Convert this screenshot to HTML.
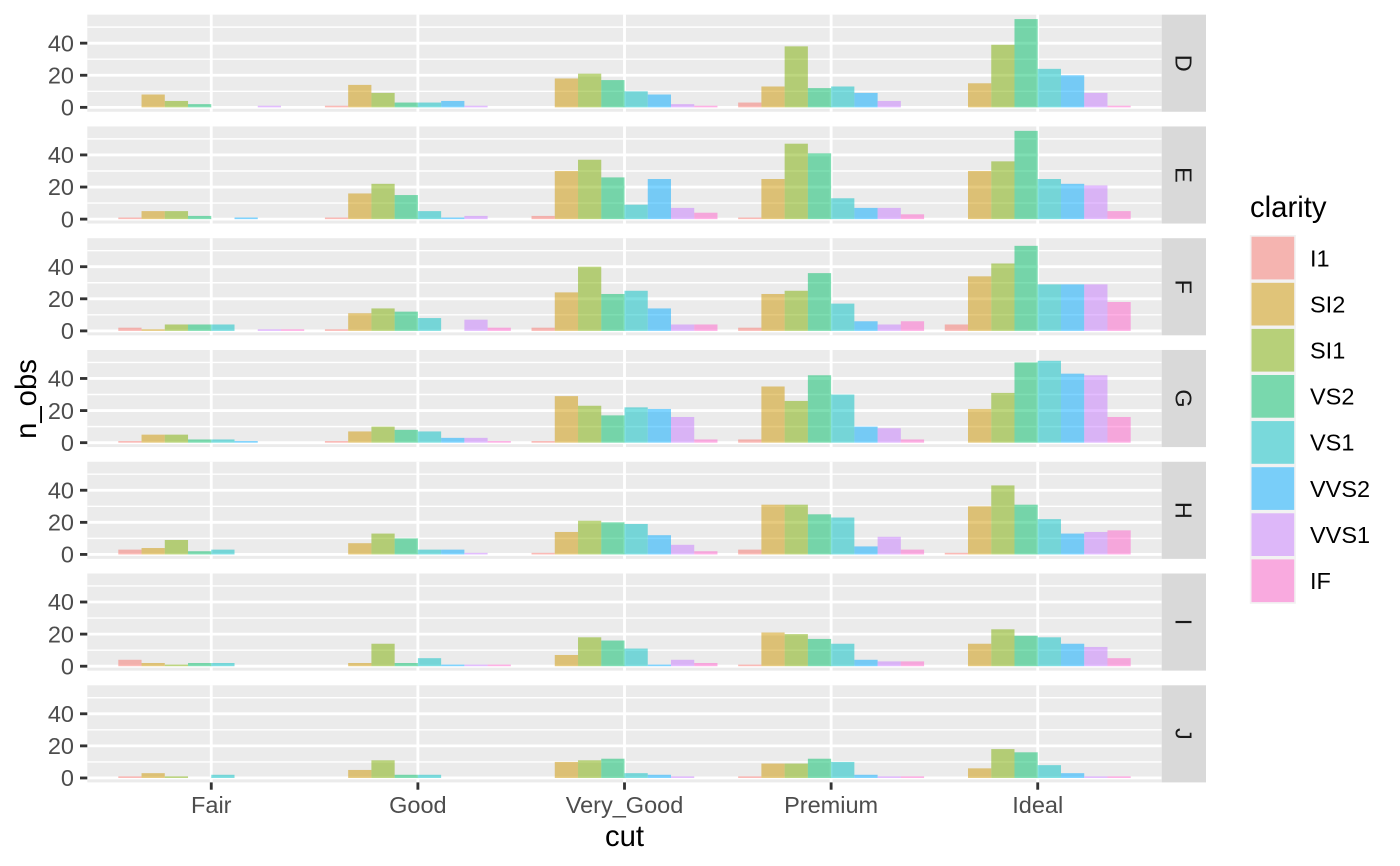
<!DOCTYPE html>
<html>
<head>
<meta charset="utf-8">
<style>
html,body{margin:0;padding:0;background:#fff;}
svg{display:block;font-family:"Liberation Sans",Arial,sans-serif;}
.bars rect{fill-opacity:0.5;}
.a{fill:#F8766D}.b{fill:#CD9600}.c{fill:#7CAE00}.d{fill:#00BE67}
.e{fill:#00BFC4}.f{fill:#00A9FF}.g{fill:#C77CFF}.h{fill:#FF61CC}
.tl{font-size:23.5px;fill:#4D4D4D;}
.st{font-size:23.5px;fill:#1A1A1A;}
.lg{font-size:23.5px;fill:#000;}
.ti{font-size:29.3px;fill:#000;}
</style>
</head>
<body>
<svg width="1400" height="866" viewBox="0 0 1400 866" xmlns="http://www.w3.org/2000/svg">
<rect width="1400" height="866" fill="#fff"/>
<defs>
<g id="pn">
<rect x="87.3" y="0" width="1074.4" height="97.1" fill="#EBEBEB"/>
<g stroke="#fff" stroke-width="1.42">
<line x1="87.3" x2="1161.7" y1="76.64" y2="76.64"/>
<line x1="87.3" x2="1161.7" y1="44.54" y2="44.54"/>
<line x1="87.3" x2="1161.7" y1="12.44" y2="12.44"/>
</g>
<g stroke="#fff" stroke-width="2.84">
<line x1="87.3" x2="1161.7" y1="92.69" y2="92.69"/>
<line x1="87.3" x2="1161.7" y1="60.59" y2="60.59"/>
<line x1="87.3" x2="1161.7" y1="28.49" y2="28.49"/>
<line x1="211.27" x2="211.27" y1="0" y2="97.1"/>
<line x1="417.89" x2="417.89" y1="0" y2="97.1"/>
<line x1="624.50" x2="624.50" y1="0" y2="97.1"/>
<line x1="831.12" x2="831.12" y1="0" y2="97.1"/>
<line x1="1037.73" x2="1037.73" y1="0" y2="97.1"/>
</g>
<rect x="1161.7" y="0" width="44.3" height="97.1" fill="#D9D9D9"/>
<g stroke="#333" stroke-width="2.84">
<line x1="80" x2="87.3" y1="92.69" y2="92.69"/>
<line x1="80" x2="87.3" y1="60.59" y2="60.59"/>
<line x1="80" x2="87.3" y1="28.49" y2="28.49"/>
</g>
</g>
</defs>
<use href="#pn" transform="translate(0,14.67)"/>
<use href="#pn" transform="translate(0,126.44)"/>
<use href="#pn" transform="translate(0,238.21)"/>
<use href="#pn" transform="translate(0,349.98)"/>
<use href="#pn" transform="translate(0,461.75)"/>
<use href="#pn" transform="translate(0,573.52)"/>
<use href="#pn" transform="translate(0,685.29)"/>

<g class="bars">
<!-- D -->
<g transform="translate(118.30,107.36) scale(1,-1.605)"><rect x="23.24" width="23.24" height="8" class="b"/><rect x="46.49" width="23.24" height="4" class="c"/><rect x="69.73" width="23.24" height="2" class="d"/><rect x="139.46" width="23.24" height="1" class="g"/></g>
<g transform="translate(324.92,107.36) scale(1,-1.605)"><rect x="0" width="23.24" height="1" class="a"/><rect x="23.24" width="23.24" height="14" class="b"/><rect x="46.49" width="23.24" height="9" class="c"/><rect x="69.73" width="23.24" height="3" class="d"/><rect x="92.97" width="23.24" height="3" class="e"/><rect x="116.22" width="23.24" height="4" class="f"/><rect x="139.46" width="23.24" height="1" class="g"/></g>
<g transform="translate(531.53,107.36) scale(1,-1.605)"><rect x="23.24" width="23.24" height="18" class="b"/><rect x="46.49" width="23.24" height="21" class="c"/><rect x="69.73" width="23.24" height="17" class="d"/><rect x="92.97" width="23.24" height="10" class="e"/><rect x="116.22" width="23.24" height="8" class="f"/><rect x="139.46" width="23.24" height="2" class="g"/><rect x="162.70" width="23.24" height="1" class="h"/></g>
<g transform="translate(738.15,107.36) scale(1,-1.605)"><rect x="0" width="23.24" height="3" class="a"/><rect x="23.24" width="23.24" height="13" class="b"/><rect x="46.49" width="23.24" height="38" class="c"/><rect x="69.73" width="23.24" height="12" class="d"/><rect x="92.97" width="23.24" height="13" class="e"/><rect x="116.22" width="23.24" height="9" class="f"/><rect x="139.46" width="23.24" height="4" class="g"/></g>
<g transform="translate(944.76,107.36) scale(1,-1.605)"><rect x="23.24" width="23.24" height="15" class="b"/><rect x="46.49" width="23.24" height="39" class="c"/><rect x="69.73" width="23.24" height="55" class="d"/><rect x="92.97" width="23.24" height="24" class="e"/><rect x="116.22" width="23.24" height="20" class="f"/><rect x="139.46" width="23.24" height="9" class="g"/><rect x="162.70" width="23.24" height="1" class="h"/></g>
<!-- E -->
<g transform="translate(118.30,219.13) scale(1,-1.605)"><rect x="0" width="23.24" height="1" class="a"/><rect x="23.24" width="23.24" height="5" class="b"/><rect x="46.49" width="23.24" height="5" class="c"/><rect x="69.73" width="23.24" height="2" class="d"/><rect x="116.22" width="23.24" height="1" class="f"/></g>
<g transform="translate(324.92,219.13) scale(1,-1.605)"><rect x="0" width="23.24" height="1" class="a"/><rect x="23.24" width="23.24" height="16" class="b"/><rect x="46.49" width="23.24" height="22" class="c"/><rect x="69.73" width="23.24" height="15" class="d"/><rect x="92.97" width="23.24" height="5" class="e"/><rect x="116.22" width="23.24" height="1" class="f"/><rect x="139.46" width="23.24" height="2" class="g"/></g>
<g transform="translate(531.53,219.13) scale(1,-1.605)"><rect x="0" width="23.24" height="2" class="a"/><rect x="23.24" width="23.24" height="30" class="b"/><rect x="46.49" width="23.24" height="37" class="c"/><rect x="69.73" width="23.24" height="26" class="d"/><rect x="92.97" width="23.24" height="9" class="e"/><rect x="116.22" width="23.24" height="25" class="f"/><rect x="139.46" width="23.24" height="7" class="g"/><rect x="162.70" width="23.24" height="4" class="h"/></g>
<g transform="translate(738.15,219.13) scale(1,-1.605)"><rect x="0" width="23.24" height="1" class="a"/><rect x="23.24" width="23.24" height="25" class="b"/><rect x="46.49" width="23.24" height="47" class="c"/><rect x="69.73" width="23.24" height="41" class="d"/><rect x="92.97" width="23.24" height="13" class="e"/><rect x="116.22" width="23.24" height="7" class="f"/><rect x="139.46" width="23.24" height="7" class="g"/><rect x="162.70" width="23.24" height="3" class="h"/></g>
<g transform="translate(944.76,219.13) scale(1,-1.605)"><rect x="23.24" width="23.24" height="30" class="b"/><rect x="46.49" width="23.24" height="36" class="c"/><rect x="69.73" width="23.24" height="55" class="d"/><rect x="92.97" width="23.24" height="25" class="e"/><rect x="116.22" width="23.24" height="22" class="f"/><rect x="139.46" width="23.24" height="21" class="g"/><rect x="162.70" width="23.24" height="5" class="h"/></g>
<!-- F -->
<g transform="translate(118.30,330.90) scale(1,-1.605)"><rect x="0" width="23.24" height="2" class="a"/><rect x="23.24" width="23.24" height="1" class="b"/><rect x="46.49" width="23.24" height="4" class="c"/><rect x="69.73" width="23.24" height="4" class="d"/><rect x="92.97" width="23.24" height="4" class="e"/><rect x="139.46" width="23.24" height="1" class="g"/><rect x="162.70" width="23.24" height="1" class="h"/></g>
<g transform="translate(324.92,330.90) scale(1,-1.605)"><rect x="0" width="23.24" height="1" class="a"/><rect x="23.24" width="23.24" height="11" class="b"/><rect x="46.49" width="23.24" height="14" class="c"/><rect x="69.73" width="23.24" height="12" class="d"/><rect x="92.97" width="23.24" height="8" class="e"/><rect x="139.46" width="23.24" height="7" class="g"/><rect x="162.70" width="23.24" height="2" class="h"/></g>
<g transform="translate(531.53,330.90) scale(1,-1.605)"><rect x="0" width="23.24" height="2" class="a"/><rect x="23.24" width="23.24" height="24" class="b"/><rect x="46.49" width="23.24" height="40" class="c"/><rect x="69.73" width="23.24" height="23" class="d"/><rect x="92.97" width="23.24" height="25" class="e"/><rect x="116.22" width="23.24" height="14" class="f"/><rect x="139.46" width="23.24" height="4" class="g"/><rect x="162.70" width="23.24" height="4" class="h"/></g>
<g transform="translate(738.15,330.90) scale(1,-1.605)"><rect x="0" width="23.24" height="2" class="a"/><rect x="23.24" width="23.24" height="23" class="b"/><rect x="46.49" width="23.24" height="25" class="c"/><rect x="69.73" width="23.24" height="36" class="d"/><rect x="92.97" width="23.24" height="17" class="e"/><rect x="116.22" width="23.24" height="6" class="f"/><rect x="139.46" width="23.24" height="4" class="g"/><rect x="162.70" width="23.24" height="6" class="h"/></g>
<g transform="translate(944.76,330.90) scale(1,-1.605)"><rect x="0" width="23.24" height="4" class="a"/><rect x="23.24" width="23.24" height="34" class="b"/><rect x="46.49" width="23.24" height="42" class="c"/><rect x="69.73" width="23.24" height="53" class="d"/><rect x="92.97" width="23.24" height="29" class="e"/><rect x="116.22" width="23.24" height="29" class="f"/><rect x="139.46" width="23.24" height="29" class="g"/><rect x="162.70" width="23.24" height="18" class="h"/></g>
<!-- G -->
<g transform="translate(118.30,442.67) scale(1,-1.605)"><rect x="0" width="23.24" height="1" class="a"/><rect x="23.24" width="23.24" height="5" class="b"/><rect x="46.49" width="23.24" height="5" class="c"/><rect x="69.73" width="23.24" height="2" class="d"/><rect x="92.97" width="23.24" height="2" class="e"/><rect x="116.22" width="23.24" height="1" class="f"/></g>
<g transform="translate(324.92,442.67) scale(1,-1.605)"><rect x="0" width="23.24" height="1" class="a"/><rect x="23.24" width="23.24" height="7" class="b"/><rect x="46.49" width="23.24" height="10" class="c"/><rect x="69.73" width="23.24" height="8" class="d"/><rect x="92.97" width="23.24" height="7" class="e"/><rect x="116.22" width="23.24" height="3" class="f"/><rect x="139.46" width="23.24" height="3" class="g"/><rect x="162.70" width="23.24" height="1" class="h"/></g>
<g transform="translate(531.53,442.67) scale(1,-1.605)"><rect x="0" width="23.24" height="1" class="a"/><rect x="23.24" width="23.24" height="29" class="b"/><rect x="46.49" width="23.24" height="23" class="c"/><rect x="69.73" width="23.24" height="17" class="d"/><rect x="92.97" width="23.24" height="22" class="e"/><rect x="116.22" width="23.24" height="21" class="f"/><rect x="139.46" width="23.24" height="16" class="g"/><rect x="162.70" width="23.24" height="2" class="h"/></g>
<g transform="translate(738.15,442.67) scale(1,-1.605)"><rect x="0" width="23.24" height="2" class="a"/><rect x="23.24" width="23.24" height="35" class="b"/><rect x="46.49" width="23.24" height="26" class="c"/><rect x="69.73" width="23.24" height="42" class="d"/><rect x="92.97" width="23.24" height="30" class="e"/><rect x="116.22" width="23.24" height="10" class="f"/><rect x="139.46" width="23.24" height="9" class="g"/><rect x="162.70" width="23.24" height="2" class="h"/></g>
<g transform="translate(944.76,442.67) scale(1,-1.605)"><rect x="23.24" width="23.24" height="21" class="b"/><rect x="46.49" width="23.24" height="31" class="c"/><rect x="69.73" width="23.24" height="50" class="d"/><rect x="92.97" width="23.24" height="51" class="e"/><rect x="116.22" width="23.24" height="43" class="f"/><rect x="139.46" width="23.24" height="42" class="g"/><rect x="162.70" width="23.24" height="16" class="h"/></g>
<!-- H -->
<g transform="translate(118.30,554.44) scale(1,-1.605)"><rect x="0" width="23.24" height="3" class="a"/><rect x="23.24" width="23.24" height="4" class="b"/><rect x="46.49" width="23.24" height="9" class="c"/><rect x="69.73" width="23.24" height="2" class="d"/><rect x="92.97" width="23.24" height="3" class="e"/></g>
<g transform="translate(324.92,554.44) scale(1,-1.605)"><rect x="23.24" width="23.24" height="7" class="b"/><rect x="46.49" width="23.24" height="13" class="c"/><rect x="69.73" width="23.24" height="10" class="d"/><rect x="92.97" width="23.24" height="3" class="e"/><rect x="116.22" width="23.24" height="3" class="f"/><rect x="139.46" width="23.24" height="1" class="g"/></g>
<g transform="translate(531.53,554.44) scale(1,-1.605)"><rect x="0" width="23.24" height="1" class="a"/><rect x="23.24" width="23.24" height="14" class="b"/><rect x="46.49" width="23.24" height="21" class="c"/><rect x="69.73" width="23.24" height="20" class="d"/><rect x="92.97" width="23.24" height="19" class="e"/><rect x="116.22" width="23.24" height="12" class="f"/><rect x="139.46" width="23.24" height="6" class="g"/><rect x="162.70" width="23.24" height="2" class="h"/></g>
<g transform="translate(738.15,554.44) scale(1,-1.605)"><rect x="0" width="23.24" height="3" class="a"/><rect x="23.24" width="23.24" height="31" class="b"/><rect x="46.49" width="23.24" height="31" class="c"/><rect x="69.73" width="23.24" height="25" class="d"/><rect x="92.97" width="23.24" height="23" class="e"/><rect x="116.22" width="23.24" height="5" class="f"/><rect x="139.46" width="23.24" height="11" class="g"/><rect x="162.70" width="23.24" height="3" class="h"/></g>
<g transform="translate(944.76,554.44) scale(1,-1.605)"><rect x="0" width="23.24" height="1" class="a"/><rect x="23.24" width="23.24" height="30" class="b"/><rect x="46.49" width="23.24" height="43" class="c"/><rect x="69.73" width="23.24" height="31" class="d"/><rect x="92.97" width="23.24" height="22" class="e"/><rect x="116.22" width="23.24" height="13" class="f"/><rect x="139.46" width="23.24" height="14" class="g"/><rect x="162.70" width="23.24" height="15" class="h"/></g>
<!-- I -->
<g transform="translate(118.30,666.21) scale(1,-1.605)"><rect x="0" width="23.24" height="4" class="a"/><rect x="23.24" width="23.24" height="2" class="b"/><rect x="46.49" width="23.24" height="1" class="c"/><rect x="69.73" width="23.24" height="2" class="d"/><rect x="92.97" width="23.24" height="2" class="e"/></g>
<g transform="translate(324.92,666.21) scale(1,-1.605)"><rect x="23.24" width="23.24" height="2" class="b"/><rect x="46.49" width="23.24" height="14" class="c"/><rect x="69.73" width="23.24" height="2" class="d"/><rect x="92.97" width="23.24" height="5" class="e"/><rect x="116.22" width="23.24" height="1" class="f"/><rect x="139.46" width="23.24" height="1" class="g"/><rect x="162.70" width="23.24" height="1" class="h"/></g>
<g transform="translate(531.53,666.21) scale(1,-1.605)"><rect x="23.24" width="23.24" height="7" class="b"/><rect x="46.49" width="23.24" height="18" class="c"/><rect x="69.73" width="23.24" height="16" class="d"/><rect x="92.97" width="23.24" height="11" class="e"/><rect x="116.22" width="23.24" height="1" class="f"/><rect x="139.46" width="23.24" height="4" class="g"/><rect x="162.70" width="23.24" height="2" class="h"/></g>
<g transform="translate(738.15,666.21) scale(1,-1.605)"><rect x="0" width="23.24" height="1" class="a"/><rect x="23.24" width="23.24" height="21" class="b"/><rect x="46.49" width="23.24" height="20" class="c"/><rect x="69.73" width="23.24" height="17" class="d"/><rect x="92.97" width="23.24" height="14" class="e"/><rect x="116.22" width="23.24" height="4" class="f"/><rect x="139.46" width="23.24" height="3" class="g"/><rect x="162.70" width="23.24" height="3" class="h"/></g>
<g transform="translate(944.76,666.21) scale(1,-1.605)"><rect x="23.24" width="23.24" height="14" class="b"/><rect x="46.49" width="23.24" height="23" class="c"/><rect x="69.73" width="23.24" height="19" class="d"/><rect x="92.97" width="23.24" height="18" class="e"/><rect x="116.22" width="23.24" height="14" class="f"/><rect x="139.46" width="23.24" height="12" class="g"/><rect x="162.70" width="23.24" height="5" class="h"/></g>
<!-- J -->
<g transform="translate(118.30,777.98) scale(1,-1.605)"><rect x="0" width="23.24" height="1" class="a"/><rect x="23.24" width="23.24" height="3" class="b"/><rect x="46.49" width="23.24" height="1" class="c"/><rect x="92.97" width="23.24" height="2" class="e"/></g>
<g transform="translate(324.92,777.98) scale(1,-1.605)"><rect x="23.24" width="23.24" height="5" class="b"/><rect x="46.49" width="23.24" height="11" class="c"/><rect x="69.73" width="23.24" height="2" class="d"/><rect x="92.97" width="23.24" height="2" class="e"/></g>
<g transform="translate(531.53,777.98) scale(1,-1.605)"><rect x="23.24" width="23.24" height="10" class="b"/><rect x="46.49" width="23.24" height="11" class="c"/><rect x="69.73" width="23.24" height="12" class="d"/><rect x="92.97" width="23.24" height="3" class="e"/><rect x="116.22" width="23.24" height="2" class="f"/><rect x="139.46" width="23.24" height="1" class="g"/></g>
<g transform="translate(738.15,777.98) scale(1,-1.605)"><rect x="0" width="23.24" height="1" class="a"/><rect x="23.24" width="23.24" height="9" class="b"/><rect x="46.49" width="23.24" height="9" class="c"/><rect x="69.73" width="23.24" height="12" class="d"/><rect x="92.97" width="23.24" height="10" class="e"/><rect x="116.22" width="23.24" height="2" class="f"/><rect x="139.46" width="23.24" height="1" class="g"/><rect x="162.70" width="23.24" height="1" class="h"/></g>
<g transform="translate(944.76,777.98) scale(1,-1.605)"><rect x="23.24" width="23.24" height="6" class="b"/><rect x="46.49" width="23.24" height="18" class="c"/><rect x="69.73" width="23.24" height="16" class="d"/><rect x="92.97" width="23.24" height="8" class="e"/><rect x="116.22" width="23.24" height="3" class="f"/><rect x="139.46" width="23.24" height="1" class="g"/><rect x="162.70" width="23.24" height="1" class="h"/></g>
</g>

<!-- y tick labels -->
<g class="tl" text-anchor="end">
<text x="74" y="115.56">0</text><text x="74" y="83.46">20</text><text x="74" y="51.36">40</text>
<text x="74" y="227.33">0</text><text x="74" y="195.23">20</text><text x="74" y="163.13">40</text>
<text x="74" y="339.10">0</text><text x="74" y="307.00">20</text><text x="74" y="274.90">40</text>
<text x="74" y="450.87">0</text><text x="74" y="418.77">20</text><text x="74" y="386.67">40</text>
<text x="74" y="562.64">0</text><text x="74" y="530.54">20</text><text x="74" y="498.44">40</text>
<text x="74" y="674.41">0</text><text x="74" y="642.31">20</text><text x="74" y="610.21">40</text>
<text x="74" y="786.18">0</text><text x="74" y="754.08">20</text><text x="74" y="721.98">40</text>
</g>

<!-- strip labels -->
<g class="st" text-anchor="middle">
<text transform="translate(1183.85,63.22) rotate(90)" dy="0.35em">D</text>
<text transform="translate(1183.85,174.99) rotate(90)" dy="0.35em">E</text>
<text transform="translate(1183.85,286.76) rotate(90)" dy="0.35em">F</text>
<text transform="translate(1183.85,398.53) rotate(90)" dy="0.35em">G</text>
<text transform="translate(1183.85,510.30) rotate(90)" dy="0.35em">H</text>
<text transform="translate(1183.85,622.07) rotate(90)" dy="0.35em">I</text>
<text transform="translate(1183.85,733.84) rotate(90)" dy="0.35em">J</text>
</g>

<!-- x ticks -->
<g stroke="#333" stroke-width="2.84">
<line x1="211.27" x2="211.27" y1="782.4" y2="789.7"/>
<line x1="417.89" x2="417.89" y1="782.4" y2="789.7"/>
<line x1="624.50" x2="624.50" y1="782.4" y2="789.7"/>
<line x1="831.12" x2="831.12" y1="782.4" y2="789.7"/>
<line x1="1037.73" x2="1037.73" y1="782.4" y2="789.7"/>
</g>
<g class="tl" text-anchor="middle">
<text x="211.27" y="813">Fair</text>
<text x="417.89" y="813">Good</text>
<text x="624.50" y="813">Very_Good</text>
<text x="831.12" y="813">Premium</text>
<text x="1037.73" y="813">Ideal</text>
</g>

<!-- axis titles -->
<text class="ti" x="624.5" y="846" text-anchor="middle">cut</text>
<text class="ti" transform="translate(36,399) rotate(-90)" text-anchor="middle">n_obs</text>

<!-- legend -->
<text class="ti" x="1250" y="217">clarity</text>
<rect x="1249.8" y="235" width="46.1" height="368.8" fill="#F2F2F2"/>
<g class="bars">
<rect x="1251.5" y="236.7" width="42.7" height="42.7" class="a"/>
<rect x="1251.5" y="282.8" width="42.7" height="42.7" class="b"/>
<rect x="1251.5" y="328.9" width="42.7" height="42.7" class="c"/>
<rect x="1251.5" y="375.0" width="42.7" height="42.7" class="d"/>
<rect x="1251.5" y="421.1" width="42.7" height="42.7" class="e"/>
<rect x="1251.5" y="467.2" width="42.7" height="42.7" class="f"/>
<rect x="1251.5" y="513.3" width="42.7" height="42.7" class="g"/>
<rect x="1251.5" y="559.4" width="42.7" height="42.7" class="h"/>
</g>
<g class="lg">
<text x="1310" y="266.3">I1</text>
<text x="1310" y="312.4">SI2</text>
<text x="1310" y="358.5">SI1</text>
<text x="1310" y="404.6">VS2</text>
<text x="1310" y="450.7">VS1</text>
<text x="1310" y="496.8">VVS2</text>
<text x="1310" y="542.9">VVS1</text>
<text x="1310" y="589.0">IF</text>
</g>
</svg>
</body>
</html>
